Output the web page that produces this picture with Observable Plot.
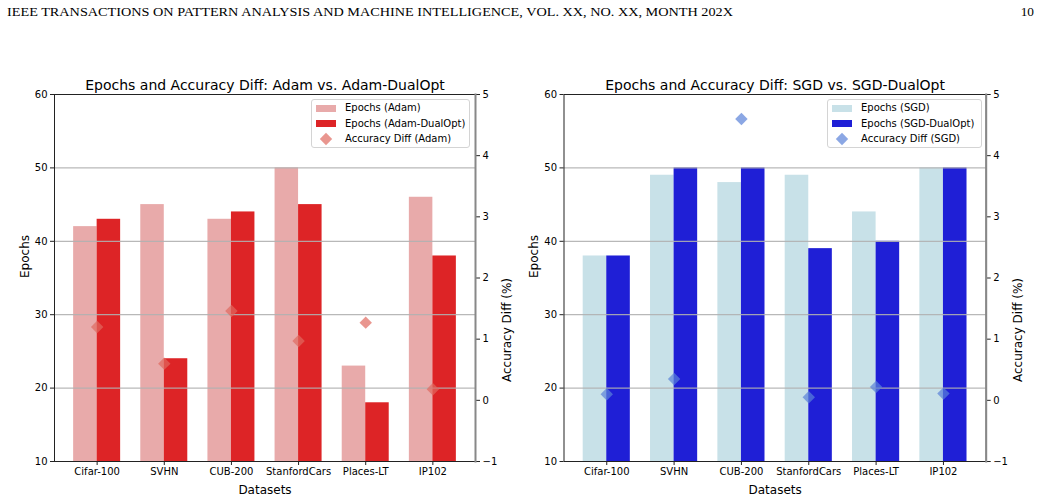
<!DOCTYPE html>
<html>
<head>
<meta charset="utf-8">
<script src="https://cdn.jsdelivr.net/npm/d3@7"></script>
<script src="https://cdn.jsdelivr.net/npm/@observablehq/plot@0.6"></script>
<style>
  html, body { margin: 0; padding: 0; background: #fff; }
  #root { position: relative; width: 1041px; height: 499px; background: #fff; overflow: hidden; }
  .legend { position: absolute; box-sizing: border-box; border: 1px solid #d4d4d4; border-radius: 3px; background: rgba(255,255,255,0.85); font-family: "DejaVu Sans", sans-serif; font-size: 10px; color: #000; }
  .legend .row { position: absolute; left: 0; height: 14px; display: flex; align-items: center; }
  .legend .sw { position: absolute; left: 4px; width: 20px; height: 7px; }
  .legend .lbl { position: absolute; left: 33px; white-space: nowrap; line-height: 14px; }
</style>
</head>
<body>
<div id="root"></div>
<script>
// ---- data ----
const categories = ["Cifar-100", "SVHN", "CUB-200", "StanfordCars", "Places-LT", "IP102"];
const adamEpochs = [42, 45, 43, 50, 23, 46];
const adamDualEpochs = [43, 24, 44, 45, 18, 38];
const adamAccDiff = [1.2, 0.6, 1.46, 0.97, 1.27, 0.18];
const sgdEpochs = [38, 49, 48, 49, 44, 50];
const sgdDualEpochs = [38, 50, 50, 39, 40, 50];
const sgdAccDiff = [0.1, 0.35, 4.6, 0.05, 0.22, 0.11];
const epochTicks = [10, 20, 30, 40, 50, 60];
const gridTicks = [20, 30, 40, 50];
const accTicks = [-1, 0, 1, 2, 3, 4, 5];
const epochDomain = [10, 60];
const accDomain = [-1, 5];

const root = document.getElementById("root");

// map secondary (accuracy) axis onto the epoch scale
const toY = a => epochDomain[0] + (a - accDomain[0]) * (epochDomain[1] - epochDomain[0]) / (accDomain[1] - accDomain[0]);
const fromY = y => accDomain[0] + (y - epochDomain[0]) * (accDomain[1] - accDomain[0]) / (epochDomain[1] - epochDomain[0]);
const fmtAcc = v => { const r = Math.round(fromY(v)); return r < 0 ? "\u2212" + Math.abs(r) : String(r); };

const barW = 0.35;

function panel(cfg) {
  const rows = categories.map((c, i) => ({i, name: c, base: cfg.base[i], dual: cfg.dual[i], acc: cfg.acc[i]}));
  const svg = Plot.plot({
    width: cfg.width,
    height: 499,
    marginTop: 94,
    marginBottom: 38,
    marginLeft: cfg.marginLeft,
    marginRight: cfg.marginRight,
    style: {fontFamily: "DejaVu Sans, sans-serif", fontSize: "10px", color: "#000", background: "transparent", maxWidth: "none", overflow: "visible"},
    x: {domain: [-0.635, 5.635], axis: null},
    y: {domain: epochDomain, axis: null},
    marks: [
      Plot.rect(rows, {x1: d => d.i - barW, x2: d => d.i, y1: 0, y2: "base", fill: cfg.light, clip: true}),
      Plot.rect(rows, {x1: d => d.i, x2: d => d.i + barW, y1: 0, y2: "dual", fill: cfg.dark, clip: true}),
      Plot.gridY(gridTicks, {stroke: "#b0b0b0", strokeOpacity: 0.9, strokeWidth: 1.2}),
      Plot.dot(rows, {x: "i", y: d => toY(d.acc), symbol: "diamond2", r: 5.6, fill: cfg.marker, fillOpacity: 0.7, stroke: "none"}),
      Plot.axisX(rows.map(d => d.i), {tickFormat: i => categories[i], tickSize: 4, tickPadding: 2, label: null, stroke: "#222"}),
      Plot.axisY(epochTicks, {anchor: "left", tickSize: 4, tickPadding: 3, label: null, stroke: "#222"}),
      Plot.axisY(accTicks.map(toY), {anchor: "right", tickFormat: fmtAcc, tickSize: 4, tickPadding: 3, label: null, stroke: "#222"}),
      Plot.frame({stroke: "#222", strokeWidth: 1}),
      Plot.frame({anchor: "right", stroke: "#888", strokeWidth: 2}),
      Plot.text([cfg.title], {frameAnchor: "top", lineAnchor: "bottom", dy: -5, fontSize: 14}),
      Plot.text(["Datasets"], {frameAnchor: "bottom", lineAnchor: "bottom", dy: 32, fontSize: 12}),
      Plot.text(["Epochs"], {frameAnchor: "left", rotate: -90, lineAnchor: "top", dx: cfg.leftLabelDx, fontSize: 12}),
      Plot.text(["Accuracy Diff (%)"], {frameAnchor: "right", rotate: -90, lineAnchor: "top", dx: 27, fontSize: 12})
    ]
  });
  const wrap = document.createElement("div");
  wrap.style.position = "absolute";
  wrap.style.left = cfg.left + "px";
  wrap.style.top = "0px";
  wrap.appendChild(svg);
  root.appendChild(wrap);

  // legend
  const lg = document.createElement("div");
  lg.className = "legend";
  lg.style.left = cfg.legend.left + "px";
  lg.style.top = "99px";
  lg.style.width = cfg.legend.width + "px";
  lg.style.height = "49px";
  const items = [
    {label: cfg.labels[0], type: "patch", color: cfg.light},
    {label: cfg.labels[1], type: "patch", color: cfg.dark},
    {label: cfg.labels[2], type: "diamond", color: cfg.marker}
  ];
  items.forEach((it, k) => {
    const row = document.createElement("div");
    row.className = "row";
    row.style.top = (1 + k * 15.5) + "px";
    row.style.width = "100%";
    if (it.type === "patch") {
      const sw = document.createElement("div");
      sw.className = "sw";
      sw.style.background = it.color;
      sw.style.top = "3.5px";
      row.appendChild(sw);
    } else {
      const s = document.createElementNS("http://www.w3.org/2000/svg", "svg");
      s.setAttribute("width", "20"); s.setAttribute("height", "14");
      s.style.position = "absolute"; s.style.left = "4px"; s.style.top = "0px";
      s.innerHTML = `<path d="M10,0.8 L16.2,7 L10,13.2 L3.8,7 Z" fill="${it.color}" fill-opacity="0.7"/>`;
      row.appendChild(s);
    }
    const t = document.createElement("div");
    t.className = "lbl";
    t.textContent = it.label;
    row.appendChild(t);
    lg.appendChild(row);
  });
  root.appendChild(lg);
}

panel({
  left: 0, width: 520, marginLeft: 54, marginRight: 45, leftLabelDx: -34,
  title: "Epochs and Accuracy Diff: Adam vs. Adam-DualOpt",
  base: adamEpochs, dual: adamDualEpochs, acc: adamAccDiff,
  light: "#e8aaaa", dark: "#dd2426", marker: "#e06a60",
  labels: ["Epochs (Adam)", "Epochs (Adam-DualOpt)", "Accuracy Diff (Adam)"],
  legend: {left: 311, width: 159}
});
panel({
  left: 520, width: 521, marginLeft: 43.5, marginRight: 55.3, leftLabelDx: -35,
  title: "Epochs and Accuracy Diff: SGD vs. SGD-DualOpt",
  base: sgdEpochs, dual: sgdDualEpochs, acc: sgdAccDiff,
  light: "#c8e1e8", dark: "#1f1fd6", marker: "#5a82d8",
  labels: ["Epochs (SGD)", "Epochs (SGD-DualOpt)", "Accuracy Diff (SGD)"],
  legend: {left: 827, width: 155}
});

// page header
const hdr = document.createElementNS("http://www.w3.org/2000/svg", "svg");
hdr.setAttribute("width", "1041"); hdr.setAttribute("height", "24");
hdr.style.position = "absolute"; hdr.style.left = "0"; hdr.style.top = "0";
hdr.innerHTML = `<text x="7" y="16" font-family="Liberation Serif, Times New Roman, serif" font-size="13.3" textLength="726" lengthAdjust="spacingAndGlyphs">IEEE TRANSACTIONS ON PATTERN ANALYSIS AND MACHINE INTELLIGENCE, VOL. XX, NO. XX, MONTH 202X</text>
<text x="1034" y="16" text-anchor="end" font-family="Liberation Serif, Times New Roman, serif" font-size="13.3">10</text>`;
root.appendChild(hdr);
</script>
</body>
</html>
